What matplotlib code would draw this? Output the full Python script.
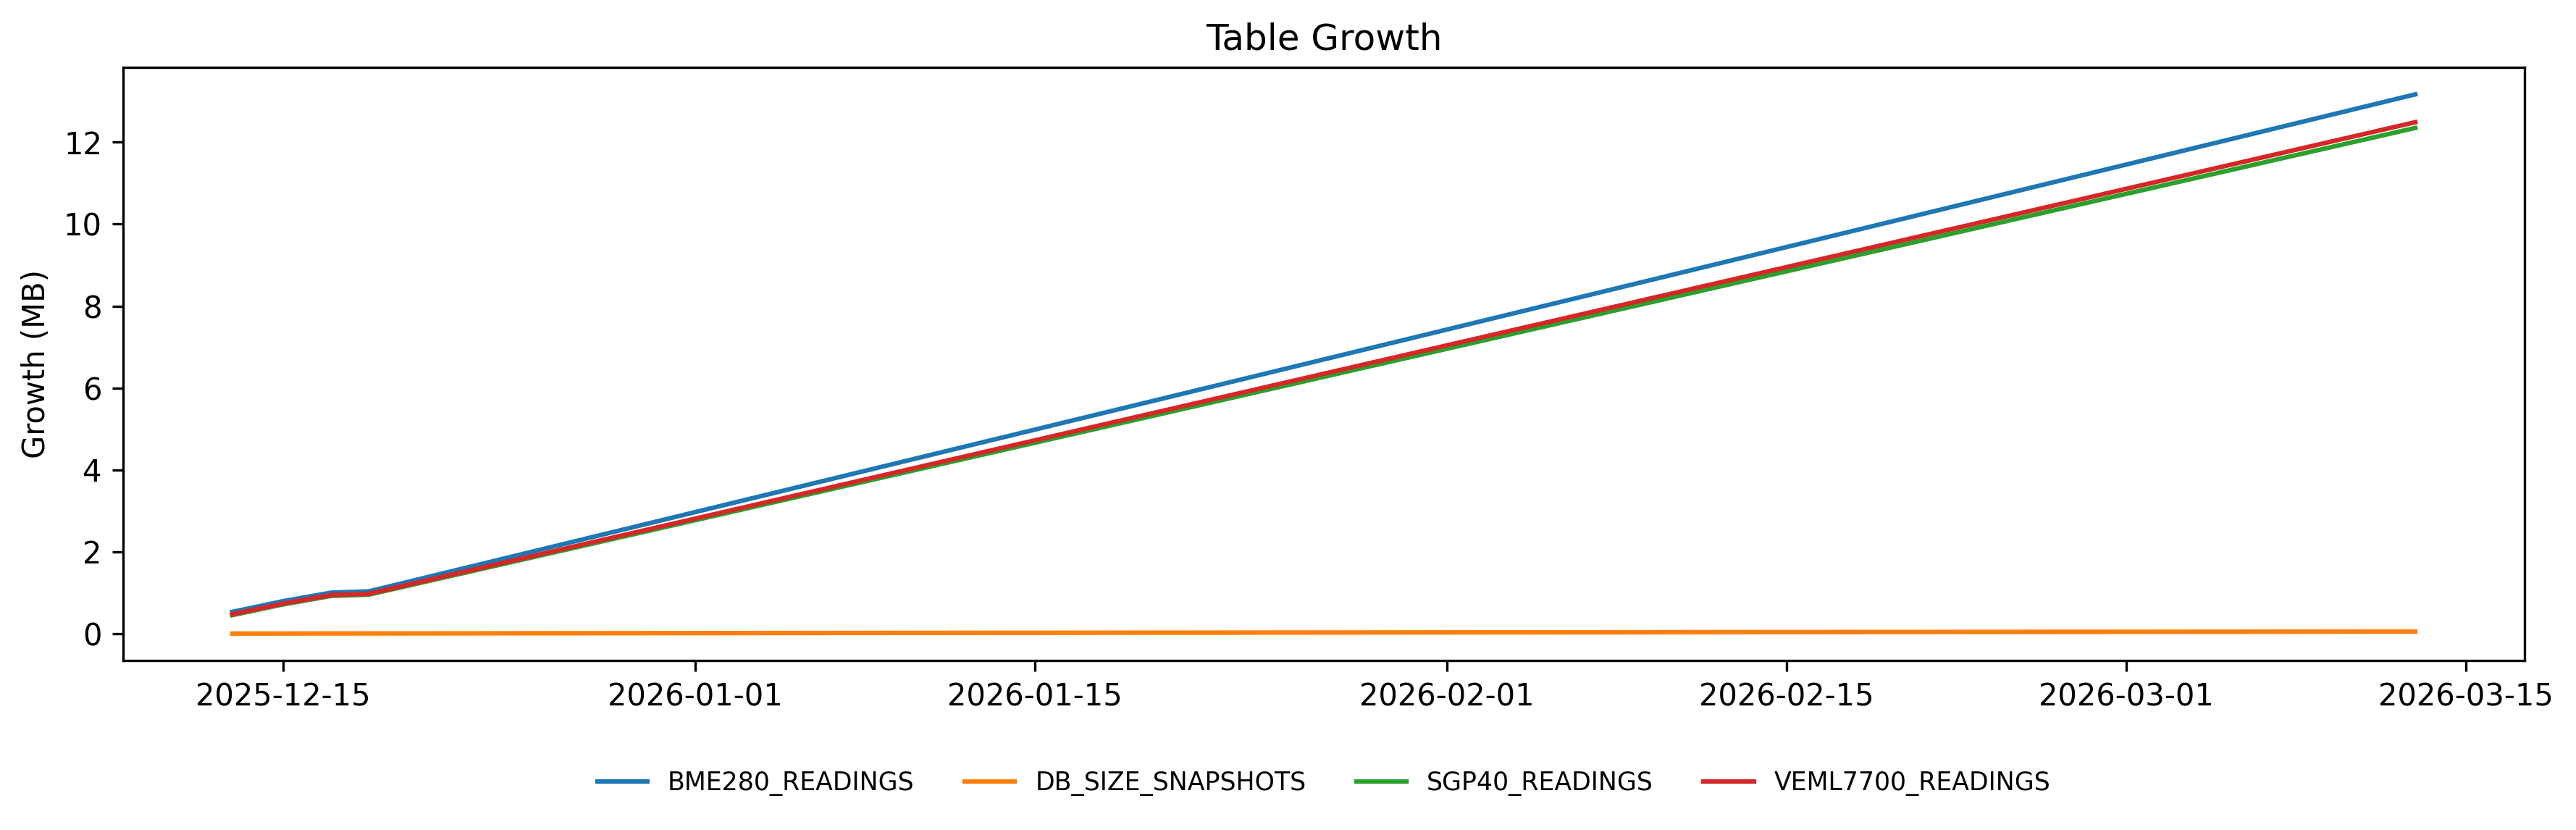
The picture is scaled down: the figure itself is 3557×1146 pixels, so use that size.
import pandas as pd
import matplotlib
matplotlib.use("Agg")
import matplotlib.pyplot as plt

# ── data ────────────────────────────────────────────────────
dates = pd.to_datetime([
    "2025-12-12 22:00", "2025-12-15 00:00", "2025-12-17 00:00",
    "2025-12-18 13:00", "2026-03-12 22:00",
])
bme280 = [0.53, 0.79, 1.00, 1.03, 13.17]
db_size = [0.000, 0.001, 0.002, 0.003, 0.050]
sgp40 = [0.45, 0.71, 0.92, 0.95, 12.35]
veml7700 = [0.47, 0.73, 0.94, 0.97, 12.49]

series = {
    "BME280_READINGS": bme280,
    "DB_SIZE_SNAPSHOTS": db_size,
    "SGP40_READINGS": sgp40,
    "VEML7700_READINGS": veml7700,
}

fig, ax = plt.subplots(figsize=(3557 / 300, 1146 / 300), dpi=300)
fig.subplots_adjust(left=0.0478, right=0.980, top=0.9188, bottom=0.2042)

for name, vals in series.items():
    ax.plot(dates, vals, label=name, linewidth=1.5)

ax.set_title("Table Growth")
ax.set_ylabel("Growth (MB)")
ax.legend(loc="center", bbox_to_anchor=(0.5, -0.2076), ncol=4,
          frameon=False, fontsize="small")

fig.savefig("out.png", dpi=300)
